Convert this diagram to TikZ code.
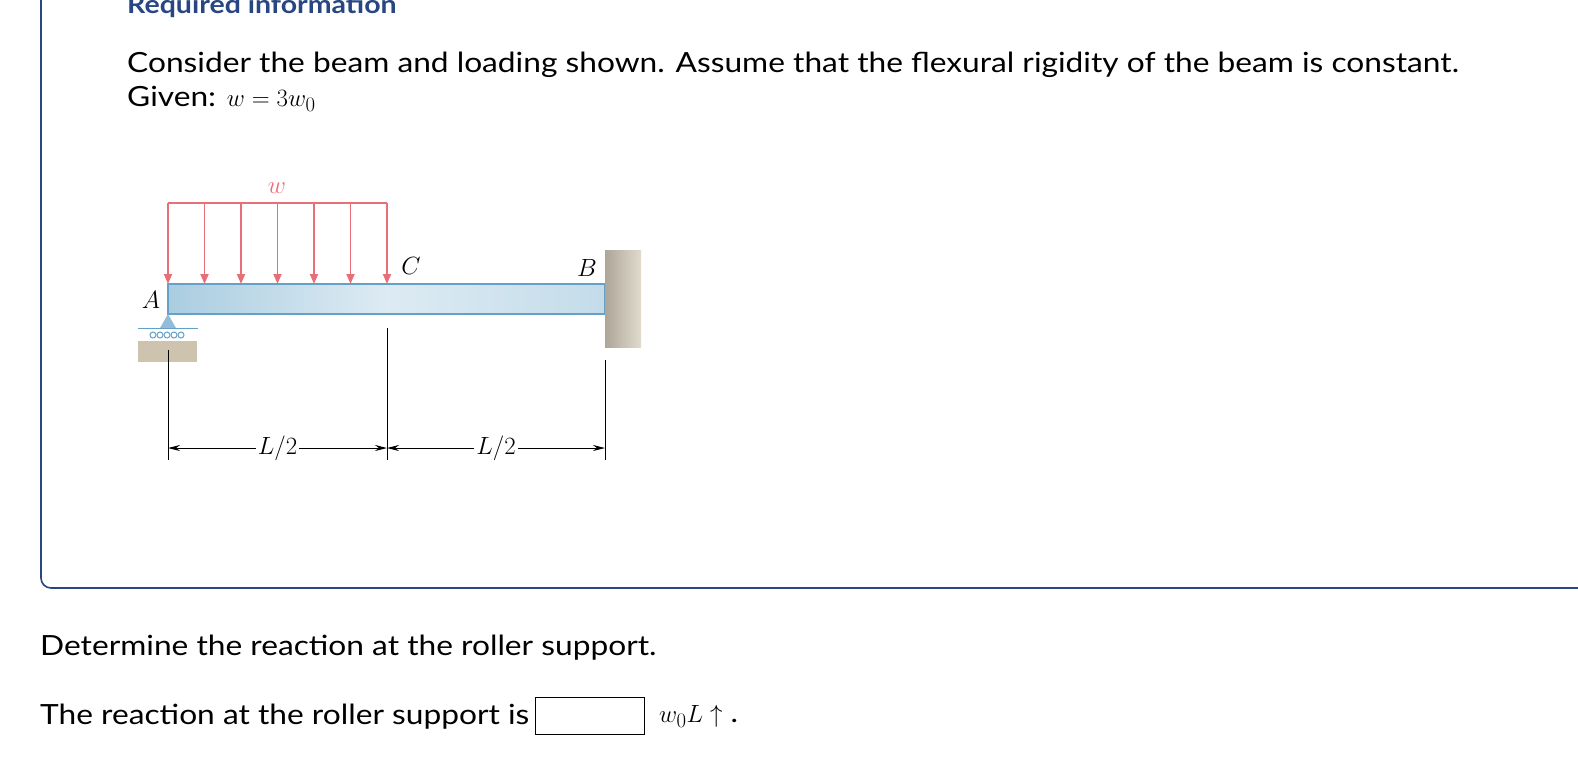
\documentclass[tikz,border=0pt]{standalone}
\usepackage{fontspec}
\setmainfont{Lato}[FakeStretch=1.14]
\usepackage{amsmath}
\usetikzlibrary{arrows.meta,positioning}
\definecolor{frameblue}{RGB}{40,70,130}
\definecolor{loadred}{RGB}{232,110,120}
\definecolor{beamblue}{RGB}{170,205,225}
\definecolor{beamedge}{RGB}{100,160,200}
\definecolor{wallgray}{RGB}{205,195,175}
\tikzset{
  txt/.style={anchor=west,inner sep=0pt,font=\fontsize{27.8}{32}\selectfont},
  lbl/.style={inner sep=0pt,font=\fontsize{24}{26}\selectfont\rmfamily},
  load/.style={loadred,line width=1.8pt,-{Triangle[length=10pt,width=8pt]}},
  dim/.style={line width=1pt,{Stealth[length=12pt,width=6pt]}-{Stealth[length=12pt,width=6pt]}}
}
\begin{document}
\begin{tikzpicture}[x=1pt,y=-1pt]
		\useasboundingbox (0,0) rectangle (1578,782);
		% frame
		\draw[frameblue,line width=1.6pt,rounded corners=10pt] (41,0) -- (41,588) -- (1580,588);
		\node[txt,font=\fontsize{25}{28}\selectfont\bfseries,text=frameblue] (title) at (127,6) {Required information};
		\node[txt] (intro) at (127,65) {Consider the beam and loading shown. Assume that the flexural rigidity of the beam is constant.};
		\node[txt] (given) at (127,99) {Given: $\displaystyle w = 3w_0$};

		% beam and wall
		\shade[left color=beamblue,right color=beamblue!70!white,middle color=white!60!beamblue] (168,284) rectangle (605,314);
		\draw[beamedge,line width=1.2pt] (168,284) rectangle (605,314);
		\shade[left color=wallgray!80!black!90,right color=wallgray!60] (605,250) rectangle (641,347);

		% load
		\draw[loadred,line width=1.8pt] (168,203) -- (387,203);
		\foreach \x in {168,204.5,241,277.5,314,350.5,387}
		  \draw[load] (\x,203) -- (\x,284);
		\node[lbl,text=loadred] (w) at (277,188) {$w$};
		\node[lbl] (C) at (411,266) {$C$};
		\node[lbl] (B) at (587,268) {$B$};
		\node[lbl] (A) at (151,300) {$A$};

		% roller support
		\fill[beamedge!70] (168,314) -- (160,328) -- (176,328) -- cycle;
		\draw[beamedge,line width=1pt] (138,328) -- (198,328);
		\foreach \x in {153,160,167,174,181}
		  \draw[beamedge,line width=1pt] (\x,335) circle (3pt);
		\fill[wallgray] (138,341) rectangle (197,362);

		% dimensions
		\coordinate (dA) at (168,448);
		\coordinate (dC) at (387,448);
		\coordinate (dB) at (605,448);
		\draw[line width=1pt] (168,350) -- (168,460);
		\draw[line width=1pt] (387,328) -- (387,460);
		\draw[line width=1pt] (605,360) -- (605,460);
		\draw[dim] (dA) -- node[lbl,fill=white,inner xsep=2pt] (l1) {$L/2$} (dC);
		\draw[dim] (dC) -- node[lbl,fill=white,inner xsep=2pt] (l2) {$L/2$} (dB);

		% question
		\node[txt] (ask) at (40,648) {Determine the reaction at the roller support.};
		\node[txt] (ans) at (40,717) {The reaction at the roller support is};
		\node[draw,line width=1pt,minimum width=109pt,minimum height=37pt,anchor=west] (box) at (535,716) {};
		\node[txt,right=14pt of box] (unit) {$w_0L\uparrow$ .};
\end{tikzpicture}
\end{document}
